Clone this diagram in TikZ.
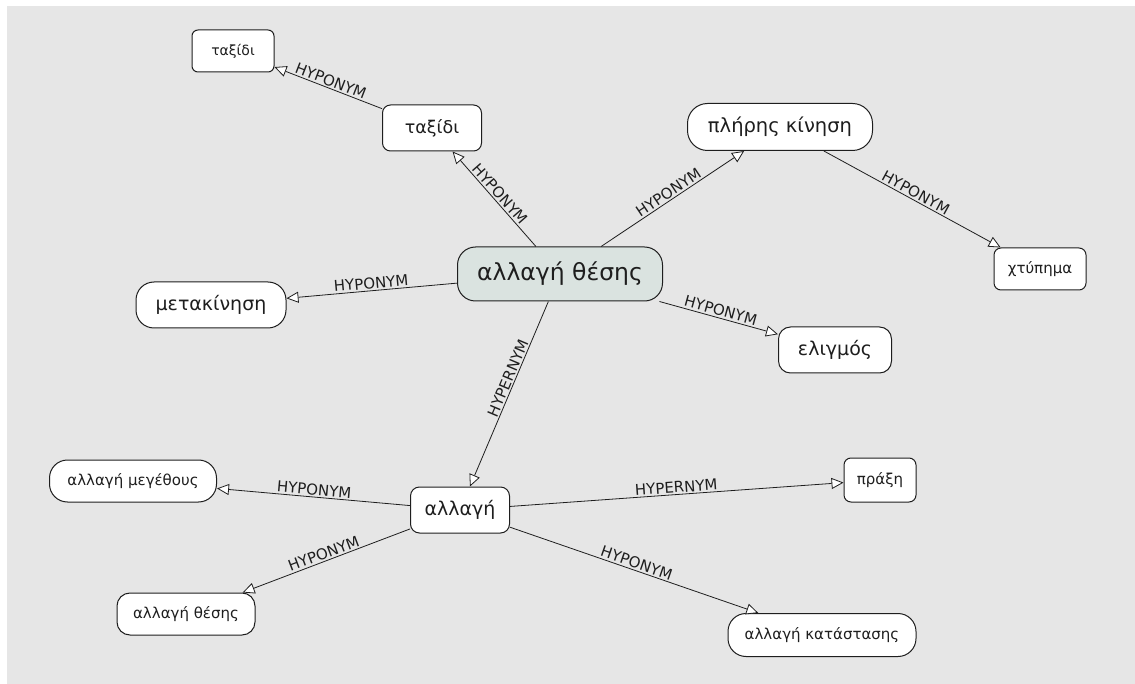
\documentclass[tikz,border=0pt]{standalone}
\usepackage{fontspec}
\setmainfont{DejaVu Sans}
\usetikzlibrary{arrows.meta}
\definecolor{bggray}{RGB}{230,230,230}
\definecolor{centralfill}{RGB}{218,227,224}
\definecolor{ink}{RGB}{30,30,30}
\begin{document}
\begin{tikzpicture}[x=1pt,y=-1pt,
  concept/.style={draw=ink, line width=1pt, fill=white, inner sep=0pt, align=center, text=ink},
  pill/.style={concept, rounded corners=#1},
  boxc/.style={concept, rounded corners=#1},
  sz/.style n args={2}{minimum width=#1pt, minimum height=#2pt},
  fs/.style={font=\fontsize{#1}{#1}\selectfont},
  rel/.style={draw=ink, line width=0.8pt, -{Triangle[fill=white,length=12pt,width=11pt,line width=0.8pt]}},
  lab/.style={fs=15, sloped, above, inner sep=1.5pt, pos=0.5, text=ink}
]
\useasboundingbox (0,0) rectangle (1135,684);
\fill[white] (0,0) rectangle (1135,684);
\fill[bggray] (7,6) rectangle (1135,684);

\node[boxc=6pt, sz={82}{42}, fs=14] (t1) at (233,51) {ταξίδι};
\node[boxc=8pt, sz={99}{46}, fs=17.5] (t2) at (432,128) {ταξίδι};
\node[pill=18pt, sz={205}{54}, fs=23.5, fill=centralfill] (c) at (560,274) {αλλαγή θέσης};
\node[pill=20pt, sz={185}{47}, fs=19.5] (pk) at (780,127) {πλήρης κίνηση};
\node[boxc=7pt, sz={92}{42}, fs=15] (x) at (1040,269) {χτύπημα};
\node[pill=18pt, sz={150}{46}, fs=19] (m) at (211,305) {μετακίνηση};
\node[boxc=12pt, sz={113}{46}, fs=19] (e) at (835,350) {ελιγμός};
\node[boxc=9pt, sz={99}{46}, fs=19] (a) at (460,510) {αλλαγή};
\node[pill=18pt, sz={167}{42}, fs=15] (am) at (133,481) {αλλαγή μεγέθους};
\node[boxc=7pt, sz={72}{44}, fs=15] (p) at (880,480) {πράξη};
\node[boxc=13pt, sz={138}{42}, fs=15] (at) at (186,614) {αλλαγή θέσης};
\node[pill=18pt, sz={188}{43}, fs=15] (ak) at (822,635) {αλλαγή κατάστασης};

\draw[rel] (t2) -- node[lab] {HYPONYM} (t1);
\draw[rel] (c) -- node[lab] {HYPONYM} (t2);
\draw[rel] (c) -- node[lab] {HYPONYM} (pk);
\draw[rel] (pk) -- node[lab] {HYPONYM} (x);
\draw[rel] (c) -- node[lab] {HYPONYM} (m);
\draw[rel] (c) -- node[lab] {HYPONYM} (e);
\draw[rel] (c) -- node[lab, pos=0.43] {HYPERNYM} (a);
\draw[rel] (a) -- node[lab] {HYPONYM} (am);
\draw[rel] (a) -- node[lab] {HYPERNYM} (p);
\draw[rel] (a) -- node[lab] {HYPONYM} (at);
\draw[rel] (a) -- node[lab] {HYPONYM} (ak);
\end{tikzpicture}
\end{document}
